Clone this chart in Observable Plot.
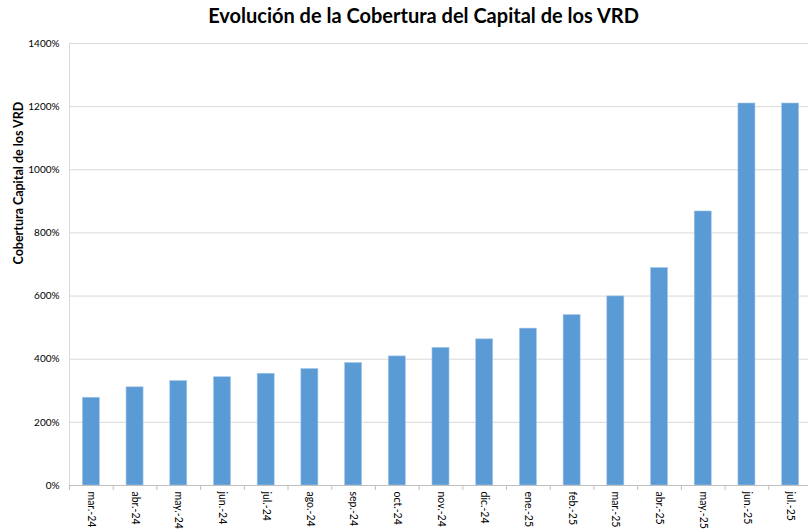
<!DOCTYPE html>
<html>
<head>
<meta charset="utf-8">
<script src="https://cdn.jsdelivr.net/npm/d3@7"></script>
<script src="https://cdn.jsdelivr.net/npm/@observablehq/plot@0.6"></script>
<style>
  html, body { margin: 0; padding: 0; background: #fff; }
  #wrap { position: relative; width: 808px; height: 531px; overflow: hidden; }
  #title { position: absolute; left: 0; top: 3px; width: 847px; text-align: center;
           font-family: Lato, "Open Sans", sans-serif; font-weight: bold; font-size: 20px; color: #000; }
</style>
</head>
<body>
<div id="wrap">
  <div id="chart"></div>
  <div id="title">Evolución de la Cobertura del Capital de los VRD</div>
</div>
<script>
const titleText = "Evolución de la Cobertura del Capital de los VRD";
const yLabel = "Cobertura Capital de los VRD";
const months = ["mar.-24","abr.-24","may.-24","jun.-24","jul.-24","ago.-24","sep.-24","oct.-24","nov.-24","dic.-24","ene.-25","feb.-25","mar.-25","abr.-25","may.-25","jun.-25","jul.-25"];
const coverage = [278, 311, 331, 343, 354, 369, 388, 409, 436, 463, 497, 540, 599, 689, 868, 1210, 1210];
const yTicks = [0, 200, 400, 600, 800, 1000, 1200, 1400];

const data = months.map((m, i) => ({month: m, value: coverage[i]}));

const width = 808, height = 531;
const marginLeft = 69, marginRight = -4;
const bandW = (width - marginLeft - marginRight) / months.length;

const chart = Plot.plot({
  width, height,
  marginLeft, marginRight,
  marginTop: 43, marginBottom: 46,
  style: {fontFamily: "Lato, 'Open Sans', sans-serif", fontSize: "10px", color: "#000"},
  x: {domain: months, paddingInner: 0.61, paddingOuter: 0.305, round: false, label: null},
  y: {domain: [0, 1400], label: null},
  marks: [
    Plot.gridY(yTicks, {stroke: "#d9d9d9", strokeOpacity: 1, strokeWidth: 1}),
    Plot.ruleX([0], {x: () => months[0], dx: -bandW / 2, stroke: "#d9d9d9", strokeOpacity: 1}),
    Plot.barY(data, {x: "month", y: "value", fill: "#5b9bd5", stroke: "#a9c9ea", strokeWidth: 0.6}),
    Plot.ruleY([0], {stroke: "#bfbfbf", strokeWidth: 1}),
    Plot.axisY(yTicks, {tickSize: 0, tickPadding: 10, tickFormat: d => d + "%", fontSize: 10, label: null}),
    Plot.axisX(months, {tickSize: 5, tickFormat: null, dx: -bandW / 2, stroke: "#bfbfbf", label: null}),
    Plot.axisX(months, {tickSize: 0, tickPadding: 6, tickRotate: 90, fontSize: 10.5, label: null}),
    Plot.text([yLabel], {frameAnchor: "left", dx: -51, rotate: -90, fontWeight: "bold", fontSize: 12.5, text: d => d})
  ]
});
document.getElementById("chart").appendChild(chart);
document.getElementById("title").textContent = titleText;
</script>
</body>
</html>
